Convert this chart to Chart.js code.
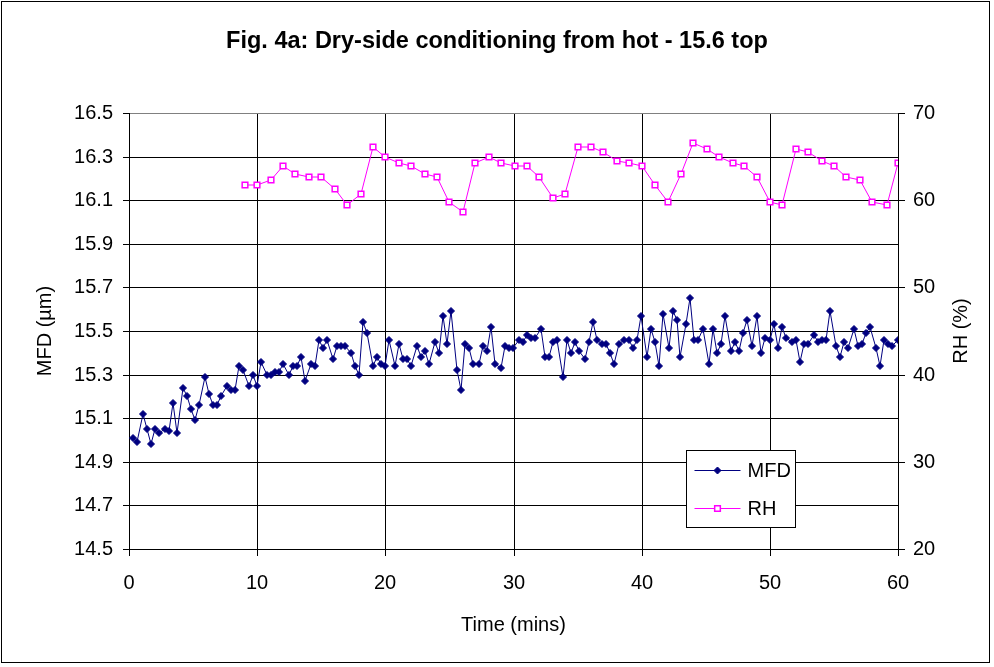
<!DOCTYPE html>
<html>
<head>
<meta charset="utf-8">
<script src="https://cdn.jsdelivr.net/npm/chart.js@4.4.0/dist/chart.umd.min.js"></script>
<style>
    html, body { margin: 0; padding: 0; background: #fff; }
    #wrap { position: absolute; left: 0; top: 0; width: 994px; height: 667px; }
</style>
</head>
<body>
<div id="wrap"><canvas id="chart" width="994" height="667"></canvas></div>
<script>
// Values
const mfdTimes = [
    0.29, 0.60, 1.07, 1.38, 1.72, 2.03, 2.37, 2.81, 3.15, 3.41, 3.75, 4.19, 4.50, 4.81, 5.15, 5.46, 5.93, 6.24, 6.55, 6.87,
    7.18, 7.62, 7.93, 8.27, 8.58, 8.90, 9.36, 9.68, 9.99, 10.30, 10.77, 11.08, 11.39, 11.70, 12.02, 12.48, 12.80, 13.11, 13.42, 13.73,
    14.17, 14.51, 14.82,
    15.14, 15.45, 15.89, 16.20, 16.54, 16.85, 17.30, 17.61, 17.92, 18.23, 18.57, 19.01, 19.33, 19.64, 19.97, 20.29, 20.75, 21.07, 21.38, 21.69,
    22.00, 22.45, 22.78, 23.09, 23.41, 23.85, 24.19, 24.50, 24.81, 25.12, 25.57, 25.88, 26.19, 26.50, 26.82, 27.31, 27.60, 27.91, 28.22, 28.53,
    29.00, 29.31, 29.63,
    29.96, 30.40, 30.72, 31.03, 31.36, 31.68, 32.12, 32.43, 32.75, 33.06, 33.39, 33.84, 34.15, 34.46, 34.77, 35.09, 35.55, 35.87, 36.18, 36.49,
    36.93, 37.24, 37.55, 37.87, 38.20, 38.65, 38.99, 39.30, 39.61, 39.92, 40.39, 40.70, 41.02, 41.33, 41.64, 42.11, 42.42, 42.73, 43.01, 43.48,
    43.79, 44.10, 44.42,
    44.76, 45.23, 45.54, 45.85, 46.17, 46.48, 46.95, 47.26, 47.57, 47.88, 48.19, 48.63, 48.97, 49.29, 49.60, 50.04, 50.35, 50.66, 50.97, 51.28,
    51.75, 52.06, 52.38, 52.69, 53.00, 53.47, 53.78, 54.09, 54.41, 54.72, 55.19, 55.50, 55.81, 56.12, 56.59, 56.90, 57.21, 57.53, 57.84, 58.31,
    58.62, 58.93, 59.24, 59.55, 60.02, 60.33
];
const mfdValues = [
    15.01, 14.99, 15.12, 15.05, 14.98, 15.05, 15.03, 15.05, 15.04, 15.17, 15.03, 15.24, 15.20, 15.14, 15.09, 15.16, 15.29, 15.21, 15.16, 15.16,
    15.20, 15.25, 15.23, 15.23, 15.34, 15.32, 15.25, 15.30, 15.25, 15.36, 15.30, 15.30, 15.31, 15.31, 15.35, 15.30, 15.34, 15.34, 15.38, 15.27,
    15.35, 15.34, 15.46,
    15.42, 15.46, 15.37, 15.43, 15.43, 15.43, 15.40, 15.34, 15.30, 15.54, 15.49, 15.34, 15.38, 15.35, 15.34, 15.46, 15.34, 15.44, 15.37, 15.37,
    15.34, 15.43, 15.38, 15.41, 15.35, 15.45, 15.40, 15.57, 15.44, 15.59, 15.32, 15.23, 15.44, 15.42, 15.35, 15.35, 15.43, 15.41, 15.52, 15.35,
    15.33, 15.43, 15.42,
    15.42, 15.46, 15.45, 15.48, 15.47, 15.47, 15.51, 15.38, 15.38, 15.45, 15.46, 15.29, 15.46, 15.40, 15.45, 15.41, 15.37, 15.45, 15.54, 15.46,
    15.44, 15.44, 15.40, 15.35, 15.44, 15.46, 15.46, 15.42, 15.46, 15.57, 15.38, 15.51, 15.45, 15.34, 15.58, 15.42, 15.59, 15.55, 15.38, 15.53,
    15.65, 15.46, 15.46,
    15.51, 15.35, 15.51, 15.40, 15.44, 15.57, 15.41, 15.45, 15.41, 15.49, 15.55, 15.43, 15.57, 15.40, 15.47, 15.46, 15.53, 15.42, 15.52, 15.47,
    15.45, 15.46, 15.36, 15.44, 15.44, 15.48, 15.45, 15.46, 15.46, 15.59, 15.43, 15.38, 15.45, 15.42, 15.51, 15.43, 15.44, 15.49, 15.52, 15.42,
    15.34, 15.46, 15.44, 15.43, 15.46, 15.40
];
const rhTimes = [
    9.05, 9.96, 11.08, 11.99, 12.95, 14.04, 14.96, 16.07, 16.99, 18.08, 19.01, 19.95, 21.04, 21.98, 23.07, 24.01, 24.94, 26.04,
    26.97, 28.06, 29.00, 30.12, 31.03, 31.99, 33.06, 34.00, 35.03, 36.02, 36.96, 38.05, 38.99, 40.05, 41.02, 42.08, 43.04, 43.98,
    45.07, 46.01, 47.10, 48.01, 48.97, 50.04, 50.97, 52.06, 53.00, 54.09, 55.03, 55.97, 57.06, 57.99, 59.12, 60.00
];
const rhValues = [
    61.8, 61.8, 62.3, 63.9, 63.0, 62.7, 62.7, 61.3, 59.5, 60.7, 66.1, 65.0, 64.3, 63.9, 63.0, 62.7, 59.8, 58.6,
    64.3, 65.0, 64.3, 63.9, 63.9, 62.7, 60.2, 60.7, 66.1, 66.1, 65.5, 64.5, 64.3, 63.9, 61.8, 59.8, 63.0, 66.6,
    65.9, 65.0, 64.3, 63.9, 62.7, 59.8, 59.5, 65.9, 65.5, 64.5, 63.9, 62.7, 62.3, 59.8, 59.5, 64.3
];

// Tick labels
const timeTicks = [0, 10, 20, 30, 40, 50, 60];
const mfdTicks = [14.5, 14.7, 14.9, 15.1, 15.3, 15.5, 15.7, 15.9, 16.1, 16.3, 16.5];
const rhTicks = [20, 30, 40, 50, 60, 70];

const FONT = '"Liberation Sans", Arial, sans-serif';
Chart.defaults.font.family = FONT;
Chart.defaults.font.size = 20;
Chart.defaults.color = '#000';

function fixTicks(list) {
    return function(scale) {
        scale.ticks = list.map(v => ({ value: v }));
    };
}

// White background and outer frame
const frame = {
    id: 'frame',
    beforeDraw(chart) {
        const ctx = chart.ctx;
        ctx.save();
        ctx.fillStyle = '#fff';
        ctx.fillRect(0, 0, chart.width, chart.height);
        ctx.strokeStyle = '#000';
        ctx.lineWidth = 1;
        ctx.strokeRect(1.5, 1.5, chart.width - 6, chart.height - 6);
        ctx.restore();
    }
};

// Right axis title reads bottom-to-top like the left one
const rightTitle = {
    id: 'rightTitle',
    afterDraw(chart) {
        const ctx = chart.ctx;
        const area = chart.chartArea;
        ctx.save();
        ctx.translate(961, (area.top + area.bottom) / 2);
        ctx.rotate(-Math.PI / 2);
        ctx.fillStyle = '#000';
        ctx.font = '20px ' + FONT;
        ctx.textAlign = 'center';
        ctx.textBaseline = 'middle';
        ctx.fillText('RH (%)', 0, 0);
        ctx.restore();
    }
};

// Boxed legend sitting inside the plot area
const boxLegend = {
    id: 'boxLegend',
    afterDraw(chart) {
        const ctx = chart.ctx;
        const box = { x: 686.5, y: 450.5, w: 109, h: 77 };
        ctx.save();
        ctx.fillStyle = '#fff';
        ctx.fillRect(box.x, box.y, box.w, box.h);
        ctx.strokeStyle = '#000';
        ctx.lineWidth = 1;
        ctx.strokeRect(box.x, box.y, box.w, box.h);

        chart.data.datasets.forEach((ds, i) => {
            const y = box.y + 20 + i * 38;
            ctx.strokeStyle = ds.borderColor;
            ctx.lineWidth = ds.borderWidth;
            ctx.beginPath();
            ctx.moveTo(box.x + 8, y);
            ctx.lineTo(box.x + 54, y);
            ctx.stroke();

            ctx.fillStyle = ds.pointBackgroundColor;
            ctx.strokeStyle = ds.pointBorderColor;
            ctx.lineWidth = ds.pointBorderWidth;
            Chart.helpers.drawPoint(ctx, {
                pointStyle: ds.pointStyle,
                radius: ds.pointRadius,
                rotation: 0,
                borderWidth: ds.pointBorderWidth
            }, box.x + 31, y);

            ctx.fillStyle = '#000';
            ctx.font = '20px ' + FONT;
            ctx.textBaseline = 'middle';
            ctx.textAlign = 'left';
            ctx.fillText(ds.label, box.x + 61, y + 1);
        });
        ctx.restore();
    }
};

const ctx = document.getElementById('chart').getContext('2d');

new Chart(ctx, {
    type: 'line',
    data: {
        datasets: [
            {
                label: 'MFD',
                data: mfdTimes.map((t, i) => ({ x: t, y: mfdValues[i] })),
                yAxisID: 'y',
                borderColor: '#000080',
                borderWidth: 1,
                pointStyle: 'rectRot',
                pointRadius: 3.5,
                pointBackgroundColor: '#000080',
                pointBorderColor: '#000080',
                pointBorderWidth: 1,
                tension: 0
            },
            {
                label: 'RH',
                data: rhTimes.map((t, i) => ({ x: t, y: rhValues[i] })),
                yAxisID: 'y2',
                borderColor: '#FF00FF',
                borderWidth: 1,
                pointStyle: 'rect',
                pointRadius: 4,
                pointBackgroundColor: '#ffffff',
                pointBorderColor: '#FF00FF',
                pointBorderWidth: 1.5,
                tension: 0
            }
        ]
    },
    options: {
        responsive: false,
        animation: false,
        layout: { padding: 0 },
        plugins: {
            legend: { display: false },
            tooltip: { enabled: false },
            title: {
                display: true,
                text: 'Fig. 4a: Dry-side conditioning from hot - 15.6 top',
                color: '#000',
                font: { size: 23.5, weight: 'bold' },
                padding: { top: 27, bottom: 57.8 }
            }
        },
        scales: {
            x: {
                type: 'linear',
                position: 'bottom',
                min: 0,
                max: 60,
                alignToPixels: true,
                afterBuildTicks: fixTicks(timeTicks),
                afterFit: s => { s.height = 118; },
                grid: { color: '#000', lineWidth: 1, tickLength: 7, tickColor: '#000' },
                border: { color: '#000', width: 1 },
                ticks: { padding: 15, maxRotation: 0, callback: v => String(v) },
                title: { display: true, text: 'Time (mins)', padding: { top: 0, bottom: 30 } }
            },
            y: {
                type: 'linear',
                position: 'left',
                min: 14.5,
                max: 16.5,
                alignToPixels: true,
                afterBuildTicks: fixTicks(mfdTicks),
                afterFit: s => { s.width = 129; },
                grid: {
                    color: c => (c.tick && c.tick.value === 16.5 ? '#808080' : '#000'),
                    lineWidth: 1,
                    tickLength: 6,
                    tickColor: '#000'
                },
                border: { color: '#000', width: 1 },
                ticks: { padding: 10, callback: v => v.toFixed(1) },
                title: { display: true, text: 'MFD (µm)', padding: { top: 33, bottom: 0 } }
            },
            y2: {
                type: 'linear',
                position: 'right',
                min: 20,
                max: 70,
                alignToPixels: true,
                afterBuildTicks: fixTicks(rhTicks),
                afterFit: s => { s.width = 96; },
                grid: { drawOnChartArea: false, tickLength: 7, tickColor: '#000', color: '#000' },
                border: { color: '#000', width: 1 },
                ticks: { padding: 8, callback: v => String(v) },
                title: { display: false }
            }
        }
    },
    plugins: [frame, rightTitle, boxLegend]
});
</script>
</body>
</html>
